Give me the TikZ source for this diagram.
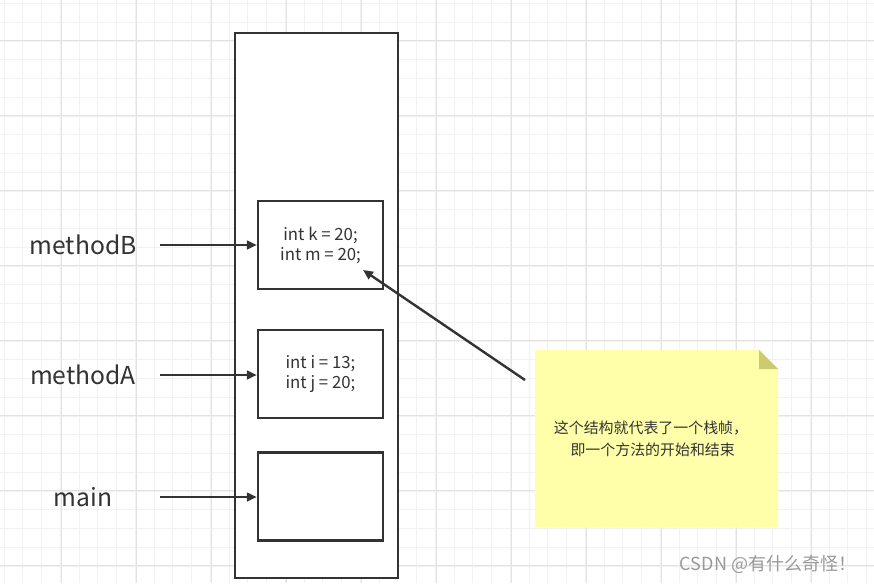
\documentclass[tikz,border=0pt]{standalone}
\usepackage{fontspec}
\setmainfont{Noto Sans CJK SC}
\usepackage{tikz}
\usetikzlibrary{arrows.meta,positioning,calc}

\definecolor{inkgray}{HTML}{333333}
\definecolor{notefill}{HTML}{FFFFAA}
\definecolor{notefold}{HTML}{CCCC6E}
\definecolor{gridminor}{HTML}{F2F2F2}
\definecolor{gridmajor}{HTML}{E3E3E3}

\begin{document}
\begin{tikzpicture}[
    x=0.75pt, y=-0.75pt,
    minorline/.style={draw=gridminor, line width=0.75pt},
    majorline/.style={draw=gridmajor, line width=0.75pt},
    stackbox/.style={draw=inkgray, line width=1.8pt, fill=white},
    framebox/.style={stackbox, minimum width=93.75pt, minimum height=66pt,
        align=center, font=\fontsize{12.6pt}{15pt}\selectfont, text=inkgray},
    methodlabel/.style={font=\fontsize{18.5pt}{22pt}\selectfont, text=inkgray},
    arrow/.style={-{Triangle[length=7.5pt,width=6.5pt]}, line width=1.8pt, draw=inkgray},
]
\useasboundingbox (0,0) rectangle (874,583);
% background grid
\fill[white] (0,0) rectangle (874,583);
\foreach \i in {0,...,46}
  \draw[minorline] ({4+18.75*\i},0) -- ({4+18.75*\i},583);
\foreach \j in {0,...,31}
  \draw[minorline] (0,{3.5+18.75*\j}) -- (874,{3.5+18.75*\j});
\foreach \i in {0,...,11}
  \draw[majorline] ({61+75*\i},0) -- ({61+75*\i},583);
\foreach \j in {0,...,7}
  \draw[majorline] (0,{40.3+75*\j}) -- (874,{40.3+75*\j});

% the stack
\draw[stackbox] (235,33) rectangle (398,578);
\node[framebox] (frameB) at (320.5,245) {int k = 20;\\int m = 20;};
\node[framebox] (frameA) at (320.5,374) {int i = 13;\\int j = 20;};
\node[framebox] (frameMain) at (320.5,496.5) {};

\node[methodlabel] (labB) at (83,245) {methodB};
\node[methodlabel] (labA) at (83,375) {methodA};
\node[methodlabel] (labMain) at (83,497) {main};

\coordinate (tailB) at (160,245);
\coordinate (tailA) at (160,375);
\coordinate (tailMain) at (160,497);
\draw[arrow] (tailB) -- (tailB -| frameB.west);
\draw[arrow] (tailA) -- (tailA -| frameA.west);
\draw[arrow] (tailMain) -- (tailMain -| frameMain.west);

% sticky note
\fill[notefill] (535,350) -- (759,350) -- (778,369) -- (778,527) -- (535,527) -- cycle;
\fill[notefold] (759,350) -- (778,369) -- (759,369) -- cycle;
\node[align=center, font=\fontsize{11.2pt}{16.5pt}\selectfont, text=inkgray] (note)
  at (651,439) {这个结构就代表了一个栈帧，\\\ 即一个方法的开始和结束};
\coordinate (noteTail) at (525,380);
\draw[arrow] (noteTail) -- (363,270);

\node[font=\fontsize{13.5pt}{16pt}\selectfont, text=black!40] (mark) at (768,564) {CSDN @有什么奇怪！};
\end{tikzpicture}
\end{document}
